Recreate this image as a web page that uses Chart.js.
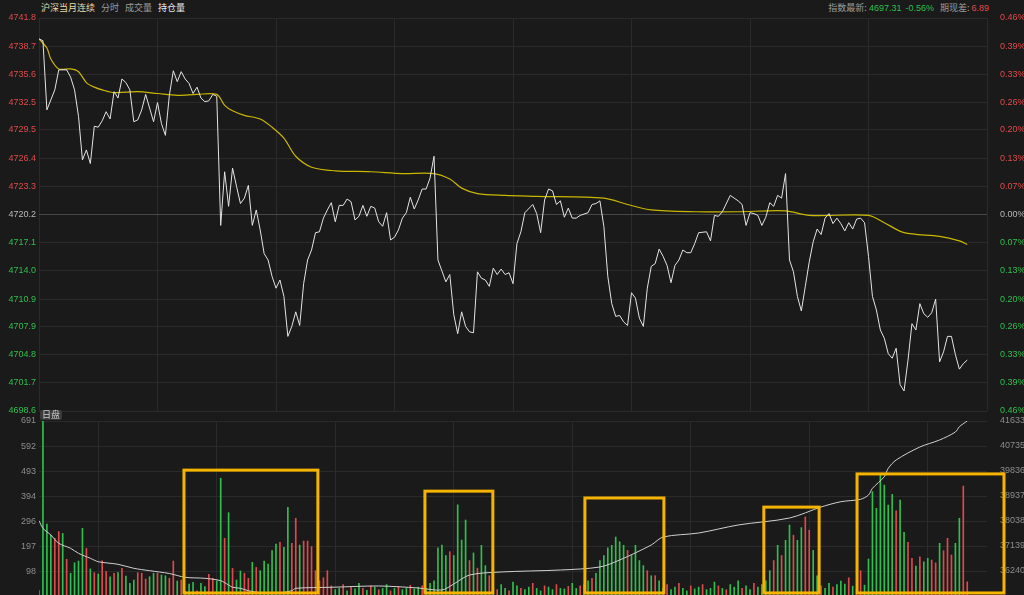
<!DOCTYPE html>
<html lang="zh-CN">
<head>
<meta charset="UTF-8">
<title>沪深当月连续 分时</title>
<script src="https://cdn.jsdelivr.net/npm/chart.js"></script>
<style>
  html, body { margin: 0; padding: 0; background: #1a1a1a; width: 1024px; height: 595px; overflow: hidden; }
  body { position: relative; font-family: "Noto Sans CJK SC", Arial, sans-serif; }
  canvas { position: absolute; left: 0; top: 0; }
  .hdr { position: absolute; top: 1px; font-size: 9px; line-height: 14px; white-space: nowrap; }
  .hdr span { margin-right: 6px; }
  .gray { color: #9a9a9a; }
  .green { color: #2fbf4e; font-family: Arial, sans-serif; }
  .red { color: #e0494a; font-family: Arial, sans-serif; }
  #badge { position: absolute; left: 40px; top: 410px; height: 10px; line-height: 10px; padding: 0 2px;
           background: #3a3a3a; color: #cfcfcf; font-size: 9px; border-radius: 2px; }
</style>
</head>
<body>
<div class="hdr" style="left:41px">
  <span style="color:#e6dcaa">沪深当月连续</span><span class="gray">分时</span><span class="gray">成交量</span><span style="color:#ececec">持仓量</span>
</div>
<div class="hdr" style="right:35px">
  <span class="gray" style="margin-right:2px">指数最新:</span><span class="green" style="margin-right:4px">4697.31</span><span class="green">-0.56%</span><span class="gray" style="margin-right:2px">期现差:</span><span class="red" style="margin-right:0">6.89</span>
</div>
<canvas id="priceChart" width="1024" height="597"></canvas>
<canvas id="volChart" width="1024" height="597"></canvas>
<div id="badge">日盘</div>

<script>
// 时间轴：0..240 分钟，每 30 分钟一条竖线
const timeTicks = [0, 30, 60, 90, 120, 150, 180, 210, 240];
const preClose = 4720.2;

// 价格轴刻度
const priceTicks = [4741.8, 4738.7, 4735.6, 4732.5, 4729.5, 4726.4, 4723.3, 4720.2,
                    4717.1, 4714.0, 4710.9, 4707.9, 4704.8, 4701.7, 4698.6];
const pctTickLabels = ['0.46%', '0.39%', '0.33%', '0.26%', '0.20%', '0.13%', '0.07%', '0.00%',
                       '0.07%', '0.13%', '0.20%', '0.26%', '0.33%', '0.39%', '0.46%'];

// 成交量 / 持仓量刻度
const volTicks = [691, 592, 493, 394, 296, 197, 98];
const oiTicks = [41633, 40735, 39836, 38937, 38038, 37139, 36240];
const oiMinVal = 35341;

// 分时价格
const priceMin = [0,1,2,4,5,7,8,9,10,11,12,13,14,15,16,17,18,19,20,21,22,23,24,25,26,27,28,29,30,
  31,32,33,34,35,36,37,38,39,40,41,42,43,44,45,46,47,48,49,50,51,52,53,54,55,56,57,58,59,60,
  61,62,63,64,65,66,67,68,69,70,71,72,73,74,75,76,77,78,79,80,81,82,83,84,85,86,87,88,89,90,
  91,92,93,94,95,96,97,98,99,100,101,102,103,104,105,106,107,108,109,110,111,112,113,114,115,
  116,117,118,119,120,121,122,123,125,126,127,128,129,130,131,132,133,134,135,136,137,139,140,
  141,142,143,144,145,146,147,148,149,150,151,152,153,154,155,156,157,158,159,160,161,162,163,
  164,165,166,167,169,170,171,172,173,175,177,178,179,180,181,182,183,184,185,186,187,188,189,
  190,191,192,193,194,195,196,197,198,199,200,201,202,203,204,205,206,207,208,209,210,211,212,
  213,214,215,216,217,218,219,220,221,222,223,224,225,226,227,228,229,230,231,232,233,234,235];
const priceVal = [4739.5,4739.3,4731.7,4733.9,4736.1,4736.1,4735.3,4733.9,4731.0,4726.2,4727.3,
  4725.8,4729.9,4729.8,4730.5,4731.5,4730.7,4733.7,4733.0,4735.1,4734.7,4733.9,4730.4,4730.6,
  4731.7,4733.4,4731.9,4730.4,4732.5,4730.2,4728.9,4733.3,4736.0,4734.8,4735.9,4735.1,4734.6,
  4733.5,4734.2,4733.0,4732.6,4732.7,4733.4,4733.2,4719.0,4724.9,4721.1,4725.3,4723.3,4721.4,
  4722.0,4723.4,4719.0,4720.7,4718.5,4715.9,4715.2,4713.4,4712.1,4713.0,4711.2,4706.8,4707.9,
  4709.5,4708.0,4712.6,4715.2,4716.3,4718.2,4718.3,4719.8,4720.7,4721.5,4719.4,4721.2,4721.2,
  4721.9,4721.6,4719.6,4720.0,4721.2,4720.0,4721.1,4720.9,4719.4,4718.9,4720.4,4717.4,4717.7,
  4718.5,4719.8,4720.4,4722.1,4720.8,4721.8,4723.0,4723.0,4724.2,4726.6,4715.2,4714.0,4712.8,
  4713.6,4709.2,4707.1,4709.5,4707.9,4707.3,4707.2,4713.9,4713.2,4713.0,4712.3,4714.3,4713.6,
  4714.2,4713.6,4713.8,4712.6,4717.0,4718.3,4720.4,4721.3,4720.3,4718.2,4721.8,4723.0,4722.8,
  4721.3,4721.7,4719.9,4720.9,4719.8,4719.8,4720.1,4720.4,4721.3,4721.4,4721.7,4718.9,4713.4,
  4710.4,4709.0,4709.1,4708.4,4708.0,4711.6,4711.0,4708.8,4707.9,4712.1,4714.5,4714.8,4716.4,
  4715.6,4714.6,4712.7,4714.6,4715.2,4716.3,4716.0,4716.0,4717.0,4718.2,4718.3,4717.3,4720.1,
  4720.0,4720.5,4722.3,4721.7,4721.3,4719.0,4720.4,4720.3,4720.1,4719.0,4719.9,4721.5,4721.1,
  4722.3,4722.0,4724.7,4715.2,4713.9,4711.2,4709.6,4712.3,4715.0,4717.2,4718.6,4718.0,4719.8,
  4720.3,4719.2,4719.8,4719.2,4718.4,4719.3,4718.6,4719.7,4719.8,4719.3,4715.6,4711.2,4709.7,
  4707.5,4706.6,4704.9,4704.4,4705.5,4701.5,4700.8,4704.2,4708.2,4707.5,4710.4,4709.3,4708.9,
  4709.4,4710.9,4704.0,4705.1,4706.8,4706.8,4704.8,4703.2,4703.8,4704.2];

// 均价线
const avgMin = [0,2,3,5,8,10,12,14,16,19,25,30,35,40,45,47,49,52,56,59,62,65,69,75,84,92,100,
  104,107,111,118,126,143,149,155,166,177,189,195,210,214,219,228,233,235];
const avgVal = [4739.5,4738.5,4737.3,4736.2,4736.2,4735.9,4734.7,4734.2,4733.9,4733.6,4733.7,
  4733.5,4733.3,4733.4,4733.4,4732.2,4731.6,4731.1,4730.7,4729.8,4728.6,4726.6,4725.4,4725.0,
  4724.9,4724.7,4724.7,4724.1,4723.1,4722.5,4722.3,4722.2,4722.0,4721.3,4720.7,4720.5,4720.5,
  4720.6,4720.1,4720.1,4719.3,4718.2,4717.8,4717.3,4716.9];

// 每分钟成交量（下标 = 分钟）与涨跌颜色
const volValues = [
  21,691,284,241,228,254,247,145,90,131,
  138,267,188,107,92,87,139,96,76,90,
  92,109,79,50,63,92,90,67,76,90,
  90,83,80,70,138,59,63,18,47,54,
  20,50,37,86,70,60,465,228,329,109,
  63,99,90,70,133,113,100,138,126,179,
  205,212,192,350,208,307,201,217,217,195,
  100,60,72,100,40,25,30,45,20,35,
  28,50,30,22,40,35,25,30,45,20,
  30,38,25,30,42,28,35,40,30,50,
  60,190,201,160,175,160,360,221,300,140,
  170,110,200,120,80,35,25,45,30,20,
  55,40,30,25,35,50,30,20,40,35,
  25,45,30,28,38,50,30,40,45,60,
  70,90,140,160,190,200,233,214,200,180,
  160,200,140,120,100,80,80,60,30,45,
  25,35,50,30,20,40,28,35,45,25,
  30,55,40,30,25,45,35,60,30,40,
  25,50,35,45,60,100,140,200,160,220,
  280,240,220,270,312,260,180,80,40,30,
  50,35,45,59,47,72,39,25,100,43,
  146,412,346,478,438,359,401,336,379,251,
  212,149,118,155,135,149,142,131,208,179,
  228,162,208,307,434,56];
const volDir = (
  'rgggrrgrgg' + 'ggrgrgrrgr' + 'grgggrrrgg' + 'rggrrgrggg' + 'rggrrggrgr' +
  'ggrrgrgggg' + 'grggrrgrrr' + 'rrrrrggrgr' + 'ggrgrgrggr' + 'grggrggrgg' +
  'ggggrggggr' + 'grggrgrggr' + 'ggrggrggrg' + 'grggrggrgg' + 'rggggggggr' +
  'ggggrgrggr' + 'ggrggrggrg' + 'ggrgrgggrg' + 'grggggrgrg' + 'grggrrggrg' +
  'grgggrgrrg' + 'gggggggrgg' + 'rrgrggrrgr' + 'rrggrr').split('');

// 持仓量
const oiMin = [0,1,3,5,8,10,13,15,20,24,28,33,37,42,46,48,49,51,53,56,60,64,65,74,86,96,102,
  105,109,117,132,142,147,155,158,167,177,190,198,203,208,210,211,214,215,217,223,228,232,233,235];
const oiVal = [38048,37775,37534,37236,37056,36876,36696,36574,36481,36337,36251,36150,36013,
  35977,35891,35736,35654,35618,35532,35460,35431,35532,35618,35654,35701,35629,35557,35772,
  36096,36204,36276,36384,36635,37175,37462,37606,37894,38145,38541,38731,38818,38972,39213,
  39630,39932,40231,40698,40950,41237,41428,41633];

// 标注框（分钟起止, 成交量上沿）
const boxStart = [36.7, 97.7, 138.2, 183.5, 207.1];
const boxEnd = [70.6, 114.9, 158.2, 197.5, 244.3];
const boxTop = [497, 414, 387, 351, 482];
const boxBottom = 12;

const RED = '#e0494a', GREEN = '#2fbf4e', GRID = '#2a2a2a';
const tickFont = { family: 'Arial, "Liberation Sans", sans-serif', size: 9 };

function setTicks(arr) {
  return s => { s.ticks = arr.slice().sort((a, b) => a - b).map(v => ({ value: v })); };
}

// 固定坐标轴尺寸，去掉标签带来的额外留白
function fixSize(w) {
  return s => {
    if (s.isHorizontal()) s.height = 0; else s.width = w;
    s.paddingTop = 0; s.paddingBottom = 0; s.paddingLeft = 0; s.paddingRight = 0;
  };
}

function xAxis() {
  return {
    type: 'linear', min: 0, max: 240, offset: false,
    afterBuildTicks: setTicks(timeTicks),
    afterFit: fixSize(0),
    ticks: { display: false },
    grid: { color: GRID, drawTicks: false },
    border: { display: false }
  };
}

function priceColor(c) {
  const v = c.tick.value;
  if (Math.abs(v - preClose) < 0.01) return '#b8b8b8';
  return v > preClose ? RED : GREEN;
}

// 上图：价格 + 均价
new Chart(document.getElementById('priceChart'), {
  type: 'line',
  data: {
    datasets: [
      {
        data: priceMin.map((m, i) => ({ x: m, y: priceVal[i] })),
        borderColor: '#e4e4e4', borderWidth: 1, pointRadius: 0, tension: 0, yAxisID: 'y'
      },
      {
        data: avgMin.map((m, i) => ({ x: m, y: avgVal[i] })),
        borderColor: '#c9b700', borderWidth: 1.2, pointRadius: 0, tension: 0.3, yAxisID: 'y'
      }
    ]
  },
  options: {
    responsive: false, animation: false, devicePixelRatio: 1,
    layout: { padding: { top: 18, bottom: 186, left: 0, right: 0 } },
    plugins: { legend: { display: false }, tooltip: { enabled: false } },
    scales: {
      x: xAxis(),
      y: {
        position: 'left', min: 4698.6, max: 4741.8,
        afterBuildTicks: setTicks(priceTicks),
        afterFit: fixSize(39),
        ticks: { font: tickFont, padding: 3, autoSkip: false, color: priceColor, callback: v => v.toFixed(1) },
        grid: { drawTicks: false, color: c => Math.abs(c.tick.value - preClose) < 0.01 ? '#474747' : GRID },
        border: { display: false }
      },
      yPct: {
        position: 'right', min: 4698.6, max: 4741.8,
        afterBuildTicks: setTicks(priceTicks),
        afterFit: fixSize(37),
        ticks: { font: tickFont, padding: 5, autoSkip: false, color: priceColor,
                 callback: v => pctTickLabels[priceTicks.indexOf(v)] },
        grid: { display: false },
        border: { display: false }
      }
    }
  }
});

// 标注框插件
const boxPlugin = {
  id: 'boxes',
  afterDraw(chart) {
    const { ctx, scales } = chart;
    const x = scales.x, y = scales.yVol;
    ctx.save();
    ctx.strokeStyle = '#f6b400';
    ctx.lineWidth = 3;
    boxStart.forEach((s, i) => {
      const x0 = x.getPixelForValue(s), x1 = x.getPixelForValue(boxEnd[i]);
      const y0 = y.getPixelForValue(boxTop[i]), y1 = y.getPixelForValue(boxBottom);
      ctx.strokeRect(x0, y0, x1 - x0, y1 - y0);
    });
    ctx.restore();
  }
};

// 下图：成交量 + 持仓量
new Chart(document.getElementById('volChart'), {
  type: 'bar',
  data: {
    datasets: [
      {
        type: 'line',
        data: oiMin.map((m, i) => ({ x: m, y: oiVal[i] })),
        borderColor: '#d0d0d0', borderWidth: 1, pointRadius: 0, tension: 0.3, yAxisID: 'yOi', order: 0
      },
      {
        type: 'bar',
        data: volValues.map((v, i) => ({ x: i, y: v })),
        backgroundColor: volDir.map(d => d === 'r' ? RED : GREEN),
        barThickness: 1, grouped: false, yAxisID: 'yVol', order: 1
      }
    ]
  },
  options: {
    responsive: false, animation: false, devicePixelRatio: 1,
    layout: { padding: { top: 421, bottom: 1, left: 0, right: 0 } },
    plugins: { legend: { display: false }, tooltip: { enabled: false } },
    scales: {
      x: xAxis(),
      yVol: {
        position: 'left', min: 0, max: 691,
        afterBuildTicks: setTicks(volTicks),
        afterFit: fixSize(39),
        ticks: { font: tickFont, padding: 3, autoSkip: false, color: '#8c8c8c', callback: v => String(v) },
        grid: { drawTicks: false, color: GRID },
        border: { display: false }
      },
      yOi: {
        position: 'right', min: oiMinVal, max: 41633,
        afterBuildTicks: setTicks(oiTicks),
        afterFit: fixSize(37),
        ticks: { font: tickFont, padding: 5, autoSkip: false, color: '#8c8c8c', callback: v => String(v) },
        grid: { display: false },
        border: { display: false }
      }
    }
  },
  plugins: [boxPlugin]
});
</script>
</body>
</html>
